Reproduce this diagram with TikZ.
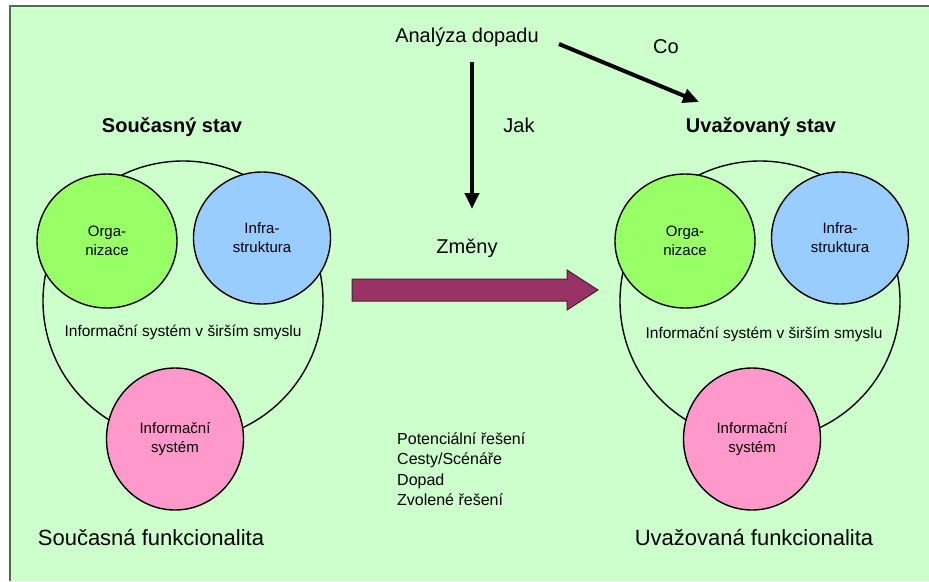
\documentclass[tikz,border=0pt]{standalone}
\usepackage{fontspec}
\setmainfont{Liberation Sans}
\usetikzlibrary{arrows.meta,shapes.geometric}

\definecolor{bg}{HTML}{CCFFCC}
\definecolor{framegray}{HTML}{5A665A}
\definecolor{orgfill}{HTML}{99FF66}
\definecolor{infrafill}{HTML}{99CCFF}
\definecolor{isfill}{HTML}{FF99CC}
\definecolor{changefill}{HTML}{993366}
\definecolor{changeline}{HTML}{4A1F33}

\begin{document}
\begin{tikzpicture}[x=1pt,y=-1pt,
  txt/.style={inner sep=0pt,font=\fontsize{20}{24}\selectfont},
  title/.style={inner sep=0pt,font=\fontsize{20}{24}\selectfont\bfseries},
  caption/.style={inner sep=0pt,font=\fontsize{22}{26}\selectfont},
  small/.style={inner sep=0pt,font=\fontsize{15.5}{19}\selectfont,align=center},
  part/.style={ellipse,draw=black,line width=1.4pt,inner sep=0pt,
    font=\fontsize{15}{19}\selectfont,align=center},
  wide/.style={circle,draw=black,line width=1.4pt,minimum size=280pt,inner sep=0pt},
  org/.style={part,fill=orgfill,minimum width=140pt,minimum height=134pt},
  infra/.style={part,fill=infrafill,minimum width=137pt,minimum height=132pt},
  infsys/.style={part,fill=isfill,minimum width=137pt,minimum height=142pt},
  flow/.style={line width=4pt,-{Triangle[length=16pt,width=14pt]}}
]
% page and frame
\useasboundingbox (0,0) rectangle (929,581);
\fill[white] (0,0) rectangle (929,581);
\fill[bg] (10,6) rectangle (929,581);
\draw[framegray,line width=2pt] (10,581) -- (10,6) -- (929,6);

% current state
\node[title] (curTitle) at (172,127) {Současný stav};
\node[wide] (wideL) at (183,301) {};
\node[org] (orgL) at (107,241) {Orga-\\nizace};
\node[infra] (infraL) at (262,238) {Infra-\\struktura};
\node[infsys] (isL) at (175,439) {Informační\\systém};
\node[small] (wideTextL) at (183,332) {Informační systém v širším smyslu};
\node[caption] (funcL) at (151,538) {Současná funkcionalita};

% considered state
\node[title] (newTitle) at (761,127) {Uvažovaný stav};
\node[wide] (wideR) at (760,301) {};
\node[org] (orgR) at (685,241) {Orga-\\nizace};
\node[infra] (infraR) at (840,238) {Infra-\\struktura};
\node[infsys] (isR) at (752,439) {Informační\\systém};
\node[small] (wideTextR) at (764,334) {Informační systém v širším smyslu};
\node[caption] (funcR) at (754,538) {Uvažovaná funkcionalita};

% impact analysis
\node[txt] (impact) at (467,37) {Analýza dopadu};
\node[txt] (what) at (666,47) {Co};
\node[txt] (how) at (519,125) {Jak};
\coordinate (howStart) at (472,62);
\coordinate (howEnd) at (472,209);
\coordinate (whatStart) at (559,44);
\coordinate (whatEnd) at (699,102);
\draw[flow] (howStart) -- (howEnd);
\draw[flow] (whatStart) -- (whatEnd);

% changes
\node[txt] (changes) at (467,248) {Změny};
\coordinate (c1) at (352,279);
\coordinate (c2) at (567,279);
\coordinate (c3) at (567,270);
\coordinate (c4) at (598,290);
\coordinate (c5) at (567,310);
\coordinate (c6) at (567,301);
\coordinate (c7) at (352,301);
\filldraw[fill=changefill,draw=changeline,line width=1pt]
  (c1) -- (c2) -- (c3) -- (c4) -- (c5) -- (c6) -- (c7) -- cycle;

\node[inner sep=0pt,anchor=west,align=left,font=\fontsize{16}{20.5}\selectfont]
  (steps) at (397,469) {Potenciální řešení\\Cesty/Scénáře\\Dopad\\Zvolené řešení};
\end{tikzpicture}
\end{document}
